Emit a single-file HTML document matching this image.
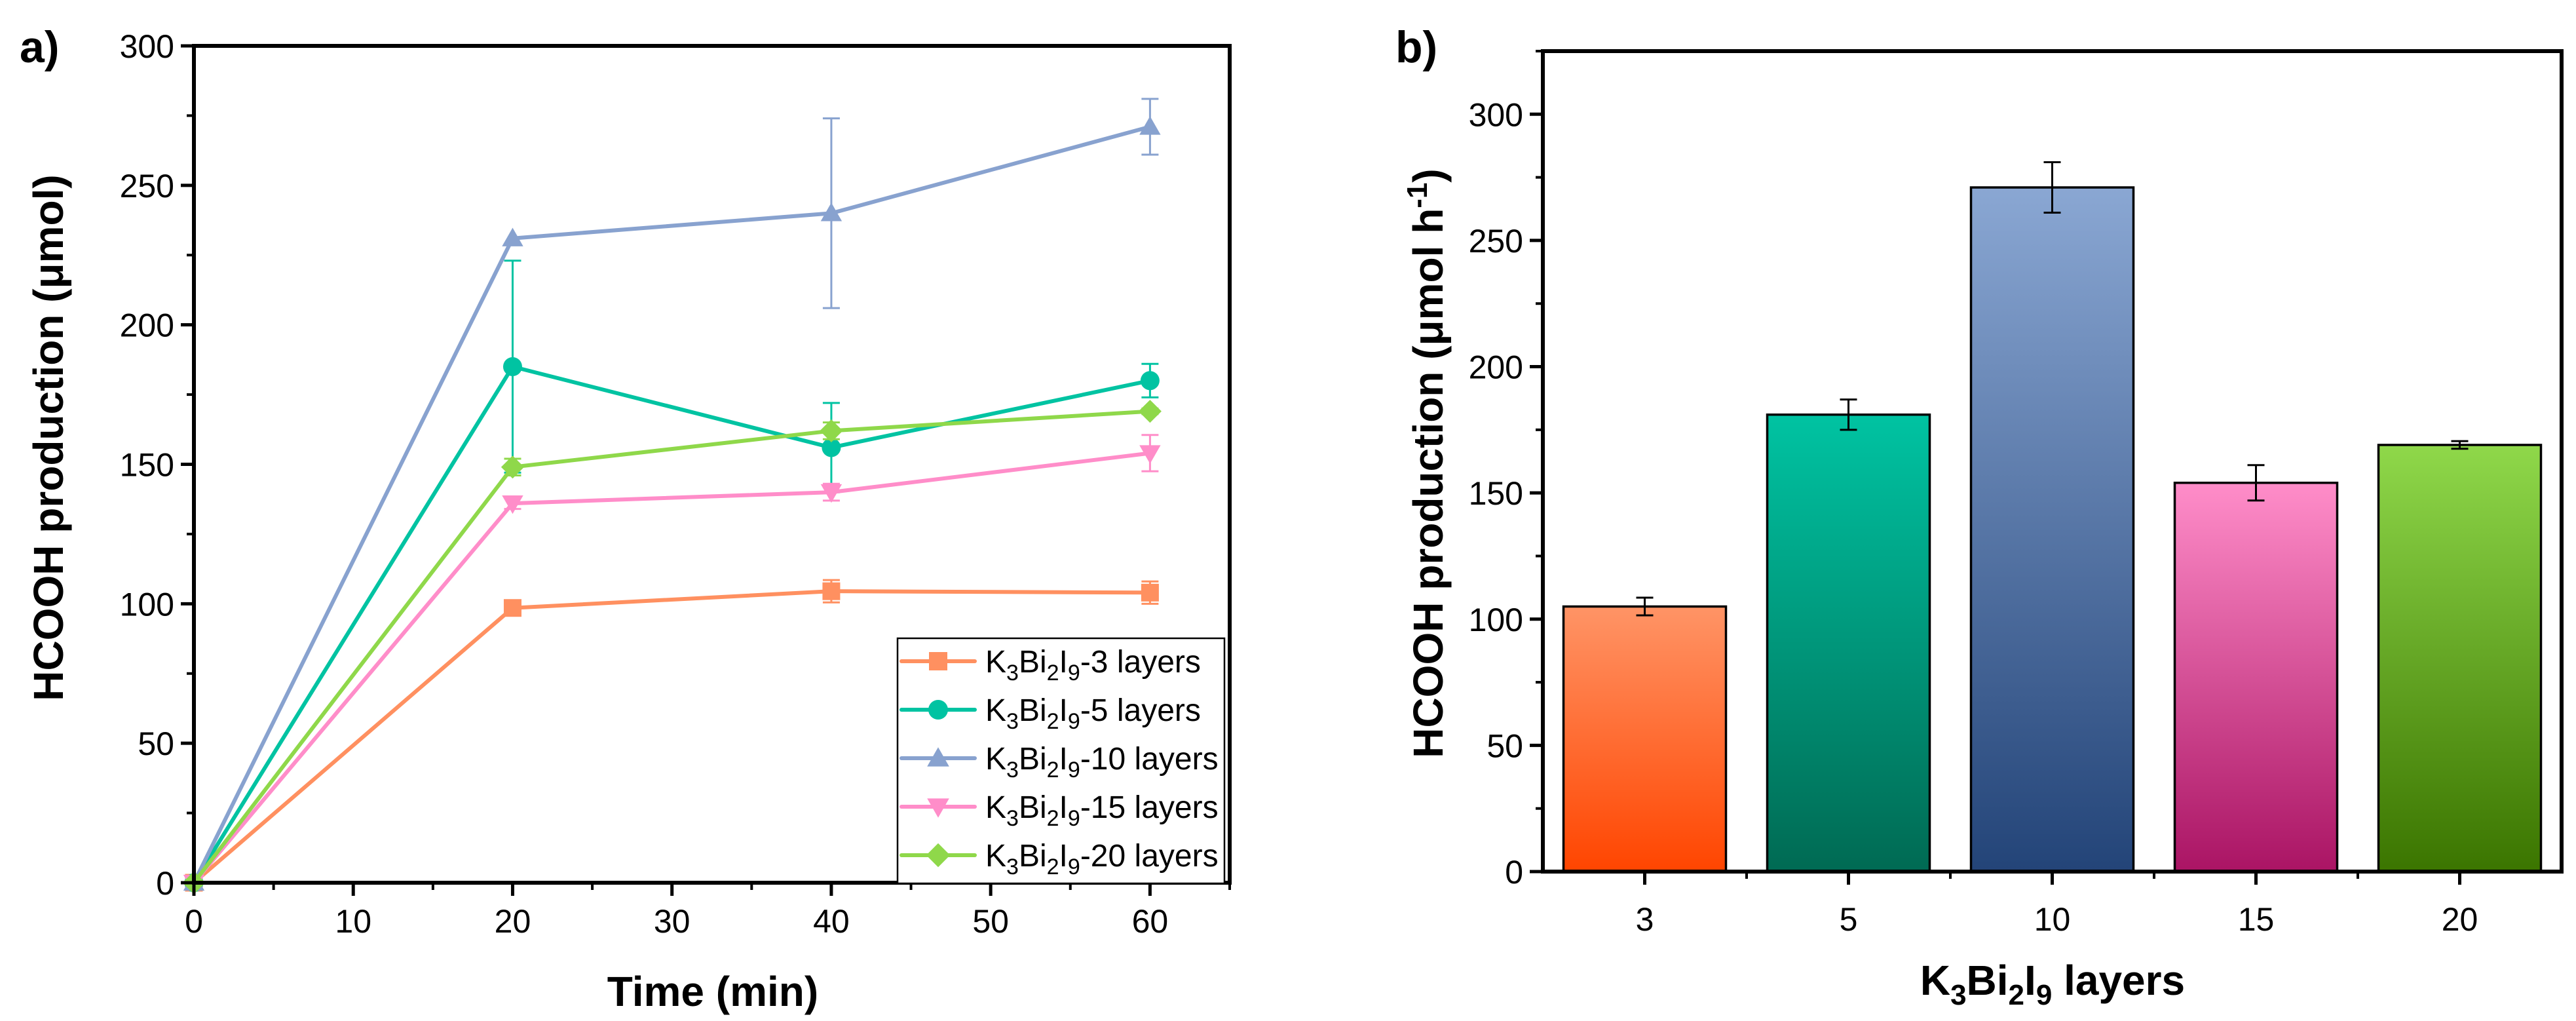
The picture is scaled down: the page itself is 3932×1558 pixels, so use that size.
<!DOCTYPE html>
<html><head><meta charset="utf-8"><style>
html,body{margin:0;padding:0;background:#fff;}
svg{display:block;font-family:"Liberation Sans",Arial,sans-serif;}
</style></head><body>
<svg id="fig" width="3932" height="1558" viewBox="0 0 3932 1558" xmlns="http://www.w3.org/2000/svg">
<defs>
<linearGradient id="g0" x1="0" y1="0" x2="0" y2="1"><stop offset="0" stop-color="#ff9466"/><stop offset="1" stop-color="#ff4500"/></linearGradient>
<linearGradient id="g1" x1="0" y1="0" x2="0" y2="1"><stop offset="0" stop-color="#00c3a2"/><stop offset="1" stop-color="#006a53"/></linearGradient>
<linearGradient id="g2" x1="0" y1="0" x2="0" y2="1"><stop offset="0" stop-color="#8aa7d3"/><stop offset="1" stop-color="#234478"/></linearGradient>
<linearGradient id="g3" x1="0" y1="0" x2="0" y2="1"><stop offset="0" stop-color="#ff8dc9"/><stop offset="1" stop-color="#aa1464"/></linearGradient>
<linearGradient id="g4" x1="0" y1="0" x2="0" y2="1"><stop offset="0" stop-color="#8fd84a"/><stop offset="1" stop-color="#3b7500"/></linearGradient>
</defs>
<g id="pa"></g>
<g id="pb"></g>
</svg>
<script>
// Panel a data
const timesA = [0, 20, 40, 60];
const seriesNames = ["3", "5", "10", "15", "20"];
const s3 = [0, 98.5, 104.5, 104];
const s5 = [0, 185, 156, 180];
const s10 = [0, 231, 240, 271];
const s15 = [0, 136, 140, 154];
const s20 = [0, 149, 162, 169];
const e3 = [0, 2, 4, 4];
const e5 = [0, 38, 16, 6];
const e10 = [0, 0, 34, 10];
const e15 = [0, 2, 3, 6.5];
const e20 = [0, 3, 3, 1];
const xTicksA = [0, 10, 20, 30, 40, 50, 60];
const yTicksA = [0, 50, 100, 150, 200, 250, 300];
// Panel b data
const catsB = ["3", "5", "10", "15", "20"];
const valsB = [105, 181, 271, 154, 169];
const errsB = [3.5, 6, 10, 7, 1.5];
const yTicksB = [0, 50, 100, 150, 200, 250, 300];

const NS = "http://www.w3.org/2000/svg";
function mk(parent, tag, attrs, text) {
  const e = document.createElementNS(NS, tag);
  for (const k in attrs) e.setAttribute(k, attrs[k]);
  if (text !== undefined) e.textContent = text;
  parent.appendChild(e);
  return e;
}
const colors = ["#ff9060", "#00c3a2", "#88a2cf", "#ff8dc9", "#8fd84a"];
const markers = ["square", "circle", "up", "down", "diamond"];
const allS = [s3, s5, s10, s15, s20];
const allE = [e3, e5, e10, e15, e20];

// ---------- Panel A ----------
const pa = document.getElementById("pa");
const AL = 296, AR = 1877, AT = 70, AB = 1347;
const xA = v => AL + (v - 0) / 65 * (AR - AL);
const yA = v => AB - v / 300 * (AB - AT);

function marker(g, type, cx, cy, c, s) {
  let el;
  if (type === "square") el = mk(g, "rect", {x: cx - s/2, y: cy - s/2, width: s, height: s, fill: c});
  else if (type === "circle") el = mk(g, "circle", {cx: cx, cy: cy, r: s/2 + 1, fill: c});
  else if (type === "up") el = mk(g, "polygon", {points: `${cx},${cy - s*0.6} ${cx - s*0.6},${cy + s*0.45} ${cx + s*0.6},${cy + s*0.45}`, fill: c});
  else if (type === "down") el = mk(g, "polygon", {points: `${cx},${cy + s*0.6} ${cx - s*0.6},${cy - s*0.45} ${cx + s*0.6},${cy - s*0.45}`, fill: c});
  else el = mk(g, "polygon", {points: `${cx},${cy - s*0.65} ${cx + s*0.65},${cy} ${cx},${cy + s*0.65} ${cx - s*0.65},${cy}`, fill: c});
  return el;
}

seriesNames.forEach((nm, i) => {
  const g = mk(pa, "g", {});
  
  
  const vals = allS[i], errs = allE[i];
  const pts = timesA.map((t, j) => xA(t) + "," + yA(vals[j])).join(" ");
  const ln = mk(g, "polyline", {points: pts, fill: "none", stroke: colors[i], "stroke-width": 6, "stroke-linejoin": "round"});
  
  
  timesA.forEach((t, j) => {
    if (errs[j] > 0) {
      const x = xA(t), y1 = yA(vals[j] + errs[j]), y2 = yA(vals[j] - errs[j]);
      const eb = mk(g, "path", {d: `M${x},${y1}V${y2}M${x-13},${y1}H${x+13}M${x-13},${y2}H${x+13}`, stroke: colors[i], "stroke-width": 3, fill: "none"});
      
      
    }
    const m = marker(g, markers[i], xA(t), yA(vals[j]), colors[i], 27);
    
    
  });
});

// axes A
const axA = mk(pa, "rect", {x: AL, y: AT, width: AR - AL, height: AB - AT, fill: "none", stroke: "#000", "stroke-width": 6});


yTicksA.forEach(v => {
  mk(pa, "line", {x1: AL - 20, x2: AL, y1: yA(v), y2: yA(v), stroke: "#000", "stroke-width": 5});
  const t = mk(pa, "text", {x: AL - 30, y: yA(v) + 18, "text-anchor": "end", "font-size": 50}, v);
  
  
  if (v < 300) mk(pa, "line", {x1: AL - 11, x2: AL, y1: yA(v + 25), y2: yA(v + 25), stroke: "#000", "stroke-width": 4});
});
xTicksA.forEach(v => {
  mk(pa, "line", {x1: xA(v), x2: xA(v), y1: AB, y2: AB + 20, stroke: "#000", "stroke-width": 5});
  mk(pa, "line", {x1: xA(v + 5), x2: xA(v + 5), y1: AB, y2: AB + 11, stroke: "#000", "stroke-width": 4});
  const t = mk(pa, "text", {x: xA(v), y: AB + 76, "text-anchor": "middle", "font-size": 50}, v);
  
  
});
const xtA = mk(pa, "text", {x: 1088, y: 1535, "text-anchor": "middle", "font-size": 64, "font-weight": "bold"}, "Time (min)");


const ytA = mk(pa, "text", {x: 0, y: 0, transform: "translate(96,668) rotate(-90)", "text-anchor": "middle", "font-size": 64, "font-weight": "bold"}, "HCOOH production (μmol)");


const la = mk(pa, "text", {x: 30, y: 95, "font-size": 68, "font-weight": "bold"}, "a)");



// legend
const lg = mk(pa, "g", {});


mk(lg, "rect", {x: 1370, y: 974, width: 499, height: 374, fill: "#fff", stroke: "#000", "stroke-width": 2.5});
seriesNames.forEach((nm, i) => {
  const y = 1009 + i * 74;
  const eg = mk(lg, "g", {});
  
  
  mk(eg, "line", {x1: 1376, x2: 1488, y1: y, y2: y, stroke: colors[i], "stroke-width": 6, "stroke-linecap": "round"});
  marker(eg, markers[i], 1432, y, colors[i], 28);
  const t = mk(eg, "text", {x: 1504, y: y + 17, "font-size": 48});
  mk(t, "tspan", {}, "K");
  mk(t, "tspan", {dy: 12, "font-size": 34}, "3");
  mk(t, "tspan", {dy: -12}, "Bi");
  mk(t, "tspan", {dy: 12, "font-size": 34}, "2");
  mk(t, "tspan", {dy: -12}, "I");
  mk(t, "tspan", {dy: 12, "font-size": 34}, "9");
  mk(t, "tspan", {dy: -12}, "-" + nm + " layers");
});

// ---------- Panel B ----------
const pb = document.getElementById("pb");
const BL = 2355, BR = 3910, BT = 78, BB = 1330;
const yB = v => BB - v / 325 * (BB - BT);
const step = (BR - BL) / catsB.length;
const xB = i => BL + step * (i + 0.5);
const bw = 248;
catsB.forEach((c, i) => {
  const r = mk(pb, "rect", {x: xB(i) - bw/2, y: yB(valsB[i]), width: bw, height: BB - yB(valsB[i]), fill: `url(#g${i})`, stroke: "#000", "stroke-width": 3.5});
  
  
  const x = xB(i), y1 = yB(valsB[i] + errsB[i]), y2 = yB(valsB[i] - errsB[i]);
  const eb = mk(pb, "path", {d: `M${x},${y1}V${y2}M${x-13},${y1}H${x+13}M${x-13},${y2}H${x+13}`, stroke: "#000", "stroke-width": 3, fill: "none"});
  
  
  mk(pb, "line", {x1: x, x2: x, y1: BB, y2: BB + 20, stroke: "#000", "stroke-width": 5});
  if (i < catsB.length - 1) mk(pb, "line", {x1: BL + step * (i + 1), x2: BL + step * (i + 1), y1: BB, y2: BB + 11, stroke: "#000", "stroke-width": 4});
  const t = mk(pb, "text", {x: x, y: BB + 90, "text-anchor": "middle", "font-size": 50}, c);
  
  
});
const axB = mk(pb, "rect", {x: BL, y: BT, width: BR - BL, height: BB - BT, fill: "none", stroke: "#000", "stroke-width": 6});


yTicksB.forEach(v => {
  mk(pb, "line", {x1: BL - 20, x2: BL, y1: yB(v), y2: yB(v), stroke: "#000", "stroke-width": 5});
  mk(pb, "line", {x1: BL - 11, x2: BL, y1: yB(v + 25), y2: yB(v + 25), stroke: "#000", "stroke-width": 4});
  const t = mk(pb, "text", {x: BL - 30, y: yB(v) + 18, "text-anchor": "end", "font-size": 50}, v);
  
  
});
const xtB = mk(pb, "text", {x: 3133, y: 1518, "text-anchor": "middle", "font-size": 64, "font-weight": "bold"});


mk(xtB, "tspan", {}, "K");
mk(xtB, "tspan", {dy: 15, "font-size": 44}, "3");
mk(xtB, "tspan", {dy: -15}, "Bi");
mk(xtB, "tspan", {dy: 15, "font-size": 44}, "2");
mk(xtB, "tspan", {dy: -15}, "I");
mk(xtB, "tspan", {dy: 15, "font-size": 44}, "9");
mk(xtB, "tspan", {dy: -15}, " layers");
const ytB = mk(pb, "text", {x: 0, y: 0, transform: "translate(2202,707) rotate(-90)", "text-anchor": "middle", "font-size": 64, "font-weight": "bold"});


mk(ytB, "tspan", {}, "HCOOH production (μmol h");
mk(ytB, "tspan", {dy: -24, "font-size": 44}, "-1");
mk(ytB, "tspan", {dy: 24}, ")");
const lb = mk(pb, "text", {x: 2130, y: 95, "font-size": 68, "font-weight": "bold"}, "b)");


</script>
</body></html>
